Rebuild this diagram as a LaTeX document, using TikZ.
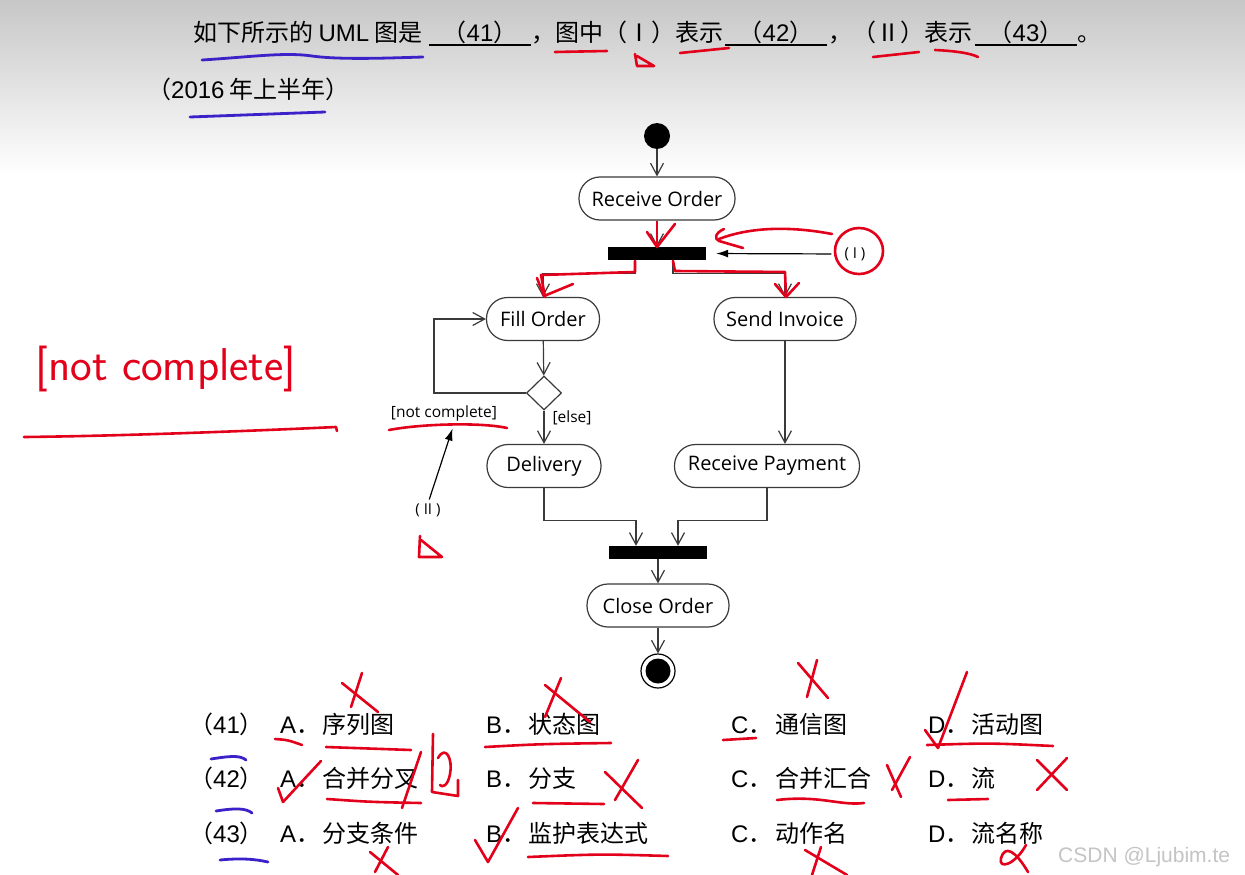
\documentclass[tikz,border=0pt]{standalone}
\usepackage{fontspec}
\setmainfont{Liberation Sans}
\newfontfamily\cjk{Noto Sans CJK SC}
\newfontfamily\umlfont{Open Sans}
\usetikzlibrary{arrows.meta,positioning,shapes.geometric}
\definecolor{InkRed}{HTML}{E3001B}
\definecolor{InkBlue}{HTML}{3B22C8}
\definecolor{UmlLine}{HTML}{3A3A3A}
\definecolor{MarkGray}{HTML}{C4C4C4}
\newcommand{\lat}[1]{{\normalfont #1}}

\begin{document}
\begin{tikzpicture}[x=1pt,y=-1pt]
  \tikzset{
    zh/.style={anchor=base west,inner sep=0pt,font=\cjk\fontsize{24}{28}\selectfont},
    blank/.style={anchor=base,inner sep=0pt,minimum width=102pt,font=\cjk\fontsize{24}{28}\selectfont},
    action/.style={draw=UmlLine,line width=1.2pt,rounded corners=21pt,minimum height=43pt,inner sep=0pt,
      font=\umlfont\fontsize{20}{24}\selectfont},
    syncbar/.style={fill=black,minimum width=98pt,minimum height=13pt,inner sep=0pt},
    choice/.style={diamond,draw=UmlLine,line width=1.2pt,minimum width=35pt,minimum height=34pt,inner sep=0pt},
    guard/.style={inner sep=0pt,font=\umlfont\fontsize{15.5}{18}\selectfont},
    marker/.style={inner sep=0pt,font=\umlfont\fontsize{15}{17}\selectfont},
    flow/.style={draw=UmlLine,line width=1.2pt,-{Straight Barb[length=12pt,width=13pt]}},
    pointer/.style={draw=black,line width=1.2pt,-{Latex[length=12pt,width=8pt]}},
    redink/.style={draw=InkRed,line width=2.6pt,line cap=round,line join=round},
    blueink/.style={draw=InkBlue,line width=2.8pt,line cap=round,line join=round}
  }
  \useasboundingbox (0,0) rectangle (1245,875);
  \fill[white] (0,0) rectangle (1245,875);
  \shade[top color=black!22,bottom color=white] (0,0) rectangle (1245,175);

  % question text
  \node[zh] (stem) at (193,42) {如下所示的 \lat{UML} 图是};
  \node[blank] (b41) at (480,42) {（\lat{41}）};
  \node[zh] (mid1) at (531,42) {，图中（Ⅰ）表示};
  \node[blank] (b42) at (776,42) {（\lat{42}）};
  \node[zh] (mid2) at (828,42) {，（Ⅱ）表示};
  \node[blank] (b43) at (1026,42) {（\lat{43}）};
  \node[zh] (stop) at (1077,42) {。};
  \node[zh] (year) at (147,98) {（\lat{2016} 年上半年）};
  \foreach \b in {b41,b42,b43}
    \draw[line width=1.6pt] (\b.base west) ++(0,3) -- ++(102,0);

  % activity diagram
  \node[circle,fill=black,minimum size=26pt,inner sep=0pt] (init) at (657,136) {};
  \node[action,minimum width=156pt] (recv) at (657,198.5) {Receive Order};
  \node[syncbar] (fork) at (657,253.5) {};
  \node[action,minimum width=113pt] (fill) at (543,319) {Fill Order};
  \node[action,minimum width=142pt] (send) at (785,319) {Send Invoice};
  \node[choice] (dec) at (544,393) {};
  \node[action,minimum width=114pt] (deliv) at (544,466) {Delivery};
  \node[action,minimum width=185pt] (pay) at (767,466) {Receive Payment};
  \node[syncbar] (join) at (658,552.5) {};
  \node[action,minimum width=142pt] (close) at (658,605.5) {Close Order};
  \node[circle,draw=black,line width=1.2pt,minimum size=34pt,inner sep=0pt,
    path picture={\fill[black] (path picture bounding box.center) circle (12.5pt);}] (final) at (658,671) {};
  \node[guard] (notdone) at (444,413) {[not complete]};
  \node[guard] (other) at (572,418) {[else]};

  \draw[flow] (init) -- (recv);
  \draw[flow] (recv) -- (fork);
  \draw[flow] ([xshift=-22pt]fork.south) -- ++(0,13) -| (fill.north);
  \draw[flow] ([xshift=16pt]fork.south) -- ++(0,13) -| (send.north);
  \draw[flow] (fill) -- (dec);
  \draw[flow] (dec.west) -- ++(-92,0) |- (fill.west);
  \draw[flow] (dec) -- (deliv);
  \draw[flow] (send.south) -- (send.south |- pay.north);
  \draw[flow] (deliv.south) -- ++(0,32) -| ([xshift=-22pt]join.north);
  \draw[flow] (pay.south) -- ++(0,32) -| ([xshift=20pt]join.north);
  \draw[flow] (join) -- (close);
  \draw[flow] (close) -- (final);

  % (I) and (II) pointers
  \node[marker] (markI) at (855,254) {( I )};
  \node[marker] (markII) at (428,510) {( II )};
  \draw[pointer,shorten <=13pt,shorten >=10pt] (markI.west) -- (fork.east);
  \draw[pointer,shorten <=4pt,shorten >=8pt] (markII.north) -- ([xshift=11pt]notdone.south);

  % answer options
  \foreach \yy/\q/\ta/\tb/\tc/\td in {733/41/序列图/状态图/通信图/活动图,787/42/合并分叉/分支/合并汇合/流,842/43/分支条件/监护表达式/动作名/流名称}{
    \node[zh] (num\q) at (189,\yy) {（\lat{\q}）};
    \node[zh] (optA\q) at (280,\yy) {\lat{A}．};
    \node[zh] (txtA\q) at (322,\yy) {\ta};
    \node[zh] (optB\q) at (486,\yy) {\lat{B}．};
    \node[zh] (txtB\q) at (528,\yy) {\tb};
    \node[zh] (optC\q) at (731,\yy) {\lat{C}．};
    \node[zh] (txtC\q) at (775,\yy) {\tc};
    \node[zh] (optD\q) at (928,\yy) {\lat{D}．};
    \node[zh] (txtD\q) at (971,\yy) {\td};
  }
  \node[anchor=west,inner sep=0pt,text=MarkGray,font=\fontsize{21}{24}\selectfont] (credit) at (1058,857) {CSDN @Ljubim.te};

  % blue pen
  \draw[blueink] (202,60) .. controls (250,57) and (285,52) .. (312,56) .. controls (340,60) and (390,58) .. (423,57);
  \draw[blueink] (190,117) -- (325,112);
  \draw[blueink] (211,759) .. controls (230,756) and (240,755) .. (246,760);
  \draw[blueink] (216,811) .. controls (235,808) and (246,808) .. (252,813);
  \draw[blueink] (220,860) .. controls (240,858) and (255,859) .. (268,862);

  % red pen, question and diagram
  \draw[redink] (555,52) -- (607,51);
  \draw[redink] (635,54) -- (637,66) -- (654,66) -- (637,56);
  \draw[redink] (680,53) -- (729,48);
  \draw[redink] (873,57) -- (919,52);
  \draw[redink] (935,50) .. controls (955,51) and (970,53) .. (978,57);
  \draw[redink] (859,251) ellipse [x radius=24pt,y radius=23pt];
  \draw[redink] (832,234) .. controls (790,226) and (750,227) .. (719,239);
  \draw[redink] (724,229) .. controls (715,233) and (714,239) .. (719,241) -- (743,248);
  \draw[redink] (657,222) -- (657,246);
  \draw[redink] (647,232) -- (657,247) -- (675,224);
  \draw[redink] (635,261) -- (635,272) -- (541,275) -- (545,297);
  \draw[redink] (537,278) -- (544,296) -- (573,284);
  \draw[redink] (673,261) -- (675,271) -- (785,272) -- (786,296);
  \draw[redink] (775,284) -- (786,297) -- (799,283);
  \node[text=InkRed,inner sep=0pt,font=\sffamily\fontsize{46}{46}\selectfont] (scrawl) at (166,369) {[not complete]};
  \draw[redink] (24,437) .. controls (120,436) and (250,431) .. (336,427) -- (337,431);
  \draw[redink] (389,430) .. controls (420,424) and (480,422) .. (507,428);
  \draw[redink] (420,536) -- (419,557) -- (442,557) -- (421,540);

  % red pen, options
  \draw[redink] (342,683) -- (378,712);
  \draw[redink] (362,673) -- (351,707);
  \draw[redink] (275,739) .. controls (288,740) .. (302,745);
  \draw[redink] (326,747) -- (411,750);
  \draw[redink] (545,685) -- (590,722);
  \draw[redink] (561,678) -- (545,717);
  \draw[redink] (485,747) .. controls (540,744) .. (611,743);
  \draw[redink] (278,788) -- (283,802) -- (321,761);
  \draw[redink] (421,752) -- (402,808);
  \draw[redink] (327,799) .. controls (370,802) .. (421,803);
  \draw[redink] (433,734) -- (432,792) -- (458,796) -- (458,780);
  \draw[redink] (438,758) .. controls (446,744) and (453,760) .. (450,774) .. controls (448,786) and (442,788) .. (440,785);
  \draw[redink] (605,772) -- (642,808);
  \draw[redink] (638,760) -- (615,800);
  \draw[redink] (533,803) -- (604,804);
  \draw[redink] (475,840) -- (488,862) -- (518,808);
  \draw[redink] (528,857) .. controls (600,854) .. (668,856);
  \draw[redink] (370,852) -- (398,875);
  \draw[redink] (388,847) -- (375,872);
  \draw[redink] (798,663) -- (828,698);
  \draw[redink] (817,660) -- (807,697);
  \draw[redink] (723,740) -- (756,738);
  \draw[redink] (925,730) -- (938,748) -- (967,672);
  \draw[redink] (927,745) .. controls (990,743) .. (1053,746);
  \draw[redink] (887,765) -- (901,797);
  \draw[redink] (910,757) -- (892,790);
  \draw[redink] (777,800) .. controls (820,795) and (840,806) .. (864,803);
  \draw[redink] (948,800) -- (988,799);
  \draw[redink] (1037,760) -- (1067,790);
  \draw[redink] (1067,758) -- (1037,790);
  \draw[redink] (805,850) -- (847,875);
  \draw[redink] (821,847) -- (812,875);
  \draw[redink] (1028,872) .. controls (1015,850) and (1005,845) .. (1001,858) .. controls (998,870) and (1015,865) .. (1026,845);
\end{tikzpicture}
\end{document}
